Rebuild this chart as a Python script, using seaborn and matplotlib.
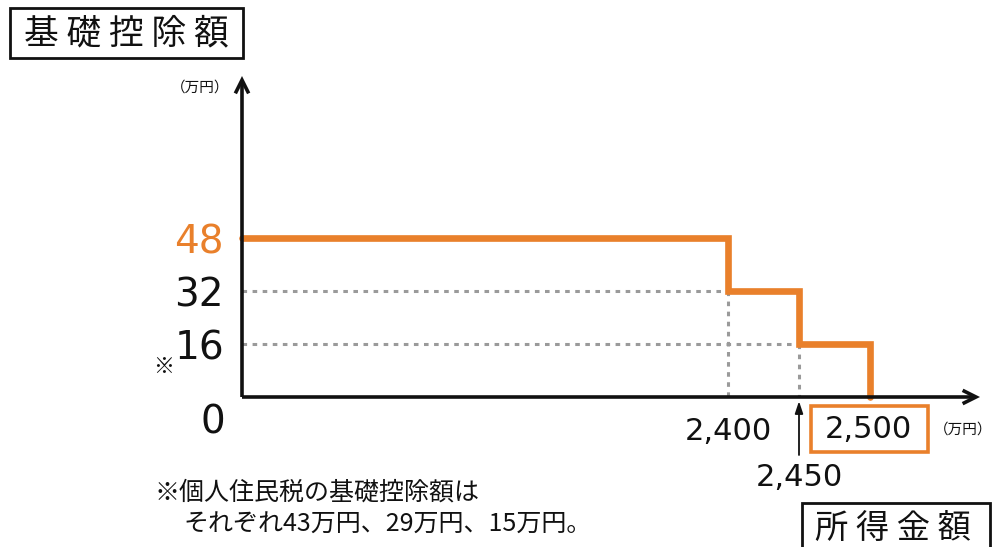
import numpy as np
import matplotlib
matplotlib.use("Agg")
import matplotlib.pyplot as plt
import seaborn as sns
from matplotlib.patches import Rectangle
from matplotlib.scale import FuncScale

# data: income thresholds (万円) and basic deduction (万円)
income = [0, 2400, 2450, 2500]
deduction = [48, 32, 16, 0]
ytick_vals = [16, 32, 48]
ytick_labels = ["16", "32", "48"]
xtick_labels = ["2,400", "2,450", "2,500"]
note_lines = ["※個人住民税の基礎控除額は", "それぞれ43万円、29万円、15万円。"]

orange = "#E9802B"
gray = "#9a9a9a"
ink = "#111111"
num_font = ['DejaVu Sans']

sns.set_theme(style="white")
plt.rcParams['font.family'] = ['Noto Sans CJK JP', 'DejaVu Sans']

W, H = 995, 547
fig = plt.figure(figsize=(W / 100, H / 100), dpi=100)


def px(x, y):
    return x / W, 1 - y / H


# axes: origin at pixel (242, 397), arrows end at x=980, y=76
x0, y0, x1, y1 = 242, 397, 980, 76
ax = fig.add_axes([x0 / W, (H - y0) / H, (x1 - x0) / W, (y0 - y1) / H])

# schematic x scale: 0-2400 compressed, 2400-2500 stretched
kx = [0, 2400, 2600]
kp = [0, 486, 770]
ax.set_xscale(FuncScale(ax, (lambda v: np.interp(v, kx, kp), lambda p: np.interp(p, kp, kx))))
xmax = np.interp(x1 - x0, kp, kx)
ax.set_xlim(0, xmax)
ax.set_ylim(0, (y0 - y1) / 3.31)

for s in ax.spines.values():
    s.set_visible(False)
ax.set_xticks([])
ax.grid(False)

# dotted guide lines
for xi, yi in zip(income[1:3], deduction[1:3]):
    ax.plot([0, xi], [yi, yi], color=gray, lw=2.2, ls=(0, (1.5, 1.8)), zorder=1, clip_on=False)
    ax.plot([xi, xi], [yi, 0], color=gray, lw=2.2, ls=(0, (1.5, 1.8)), zorder=1, clip_on=False)

# step line
sns.lineplot(x=income, y=deduction, drawstyle="steps-post", color=orange, lw=4.8,
             estimator=None, sort=False, ax=ax, zorder=3, clip_on=False)
ax.lines[-1].set_solid_joinstyle("miter")

# axis arrows
for end in [(1, 0), (0, 1)]:
    ax.annotate("", xy=end, xytext=(0, 0), xycoords="axes fraction",
                arrowprops=dict(arrowstyle="->,head_length=0.8,head_width=0.4", lw=2.6, color=ink,
                                shrinkA=0, shrinkB=0, joinstyle="miter", capstyle="butt"), zorder=4)

# y tick labels
ax.set_yticks(ytick_vals)
ax.set_yticklabels(ytick_labels, fontsize=28, family=num_font)
ax.tick_params(axis="y", length=0, pad=13, colors=ink)
ax.get_yticklabels()[-1].set_color(orange)
ax.annotate("0", xy=(0, 0), xytext=(-29, -25), textcoords="offset pixels",
            ha="center", va="center", fontsize=28, color=ink, family=num_font)

# x labels
ax.annotate(xtick_labels[0], xy=(2400, 0), xytext=(0, -34), textcoords="offset pixels",
            ha="center", va="center", fontsize=22, color=ink, family=num_font)
ax.annotate(xtick_labels[1], xy=(2450, 0), xytext=(0, -81), textcoords="offset pixels",
            ha="center", va="center", fontsize=22, color=ink, family=num_font)
ax.annotate("", xy=(2450, 0), xytext=(0, -58), textcoords="offset pixels",
            arrowprops=dict(arrowstyle="-|>,head_length=0.6,head_width=0.2", lw=1.3, color=ink,
                            shrinkA=0, shrinkB=3))
ax.annotate(xtick_labels[2], xy=(2500, 0), xytext=(-2, -33), textcoords="offset pixels",
            ha="center", va="center", fontsize=22, color=ink, family=num_font)

# unit labels
fig.text(*px(200, 88), "（万円）", fontsize=10.5, ha="center", va="center", color=ink)
fig.text(*px(963, 430), "（万円）", fontsize=10.5, ha="center", va="center", color=ink)

# asterisk near 16
fig.text(*px(164, 367), "※", fontsize=15, ha="center", va="center", color=ink)

# boxes
fig.patches.append(Rectangle(px(10, 58), 233 / W, 50 / H, transform=fig.transFigure,
                             fill=False, ec=ink, lw=2))
fig.text(*px(126, 34), "基 礎 控 除 額", fontsize=25, ha="center", va="center", color=ink)

fig.patches.append(Rectangle(px(811, 452), 117 / W, 46 / H, transform=fig.transFigure,
                             fill=False, ec=orange, lw=2.6))

fig.patches.append(Rectangle(px(802, 560), 188 / W, 57 / H, transform=fig.transFigure,
                             fill=False, ec=ink, lw=2, clip_on=False))
fig.text(*px(893, 528), "所 得 金 額", fontsize=24, ha="center", va="center", color=ink)

# footnote
fig.text(*px(155, 493), note_lines[0], fontsize=18, ha="left", va="center", color=ink)
fig.text(*px(183, 525), note_lines[1], fontsize=18, ha="left", va="center", color=ink)

fig.savefig("out.png", dpi=100)
